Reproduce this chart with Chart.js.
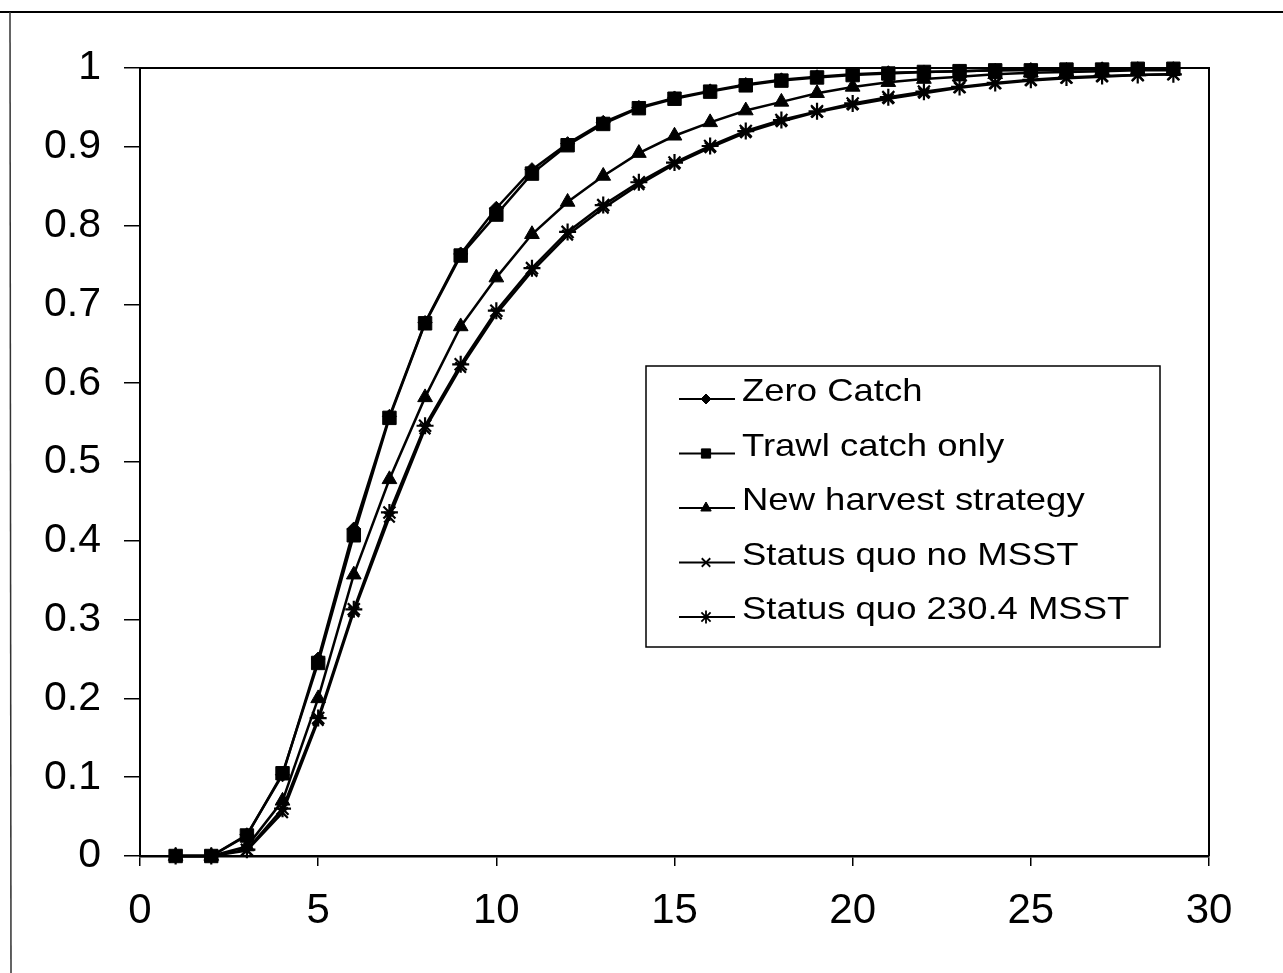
<!DOCTYPE html>
<html>
<head>
<meta charset="utf-8">
<style>
  html, body { margin: 0; padding: 0; background: #fff; }
  #wrap { width: 1283px; height: 973px; position: relative; }
</style>
<script src="https://cdn.jsdelivr.net/npm/chart.js@4.4.0/dist/chart.umd.min.js"></script>
</head>
<body>
<div id="wrap"><canvas id="chart"></canvas></div>
<script>
// data (x = year, y = probability)
const years = [1,2,3,4,5,6,7,8,9,10,11,12,13,14,15,16,17,18,19,20,21,22,23,24,25,26,27,28,29];

const zeroCatch   = [0, 0, 0.027, 0.103, 0.250, 0.415, 0.558, 0.677, 0.764, 0.822, 0.871, 0.904, 0.931, 0.950, 0.962, 0.971, 0.979, 0.985, 0.989, 0.992, 0.994, 0.995, 0.996, 0.997, 0.998, 0.998, 0.999, 0.999, 0.999];
const trawlOnly   = [0, 0, 0.026, 0.105, 0.245, 0.407, 0.556, 0.676, 0.762, 0.814, 0.866, 0.902, 0.929, 0.949, 0.961, 0.970, 0.978, 0.984, 0.988, 0.991, 0.993, 0.995, 0.996, 0.997, 0.997, 0.998, 0.998, 0.999, 0.999];
const newHarvest  = [0, 0, 0.012, 0.070, 0.200, 0.357, 0.478, 0.582, 0.672, 0.734, 0.789, 0.830, 0.863, 0.892, 0.914, 0.931, 0.946, 0.957, 0.968, 0.976, 0.982, 0.986, 0.989, 0.992, 0.994, 0.995, 0.996, 0.997, 0.997];
const sqNoMsst    = [0, 0, 0.007, 0.055, 0.172, 0.310, 0.430, 0.542, 0.620, 0.688, 0.742, 0.788, 0.822, 0.852, 0.878, 0.899, 0.918, 0.932, 0.944, 0.953, 0.961, 0.968, 0.975, 0.980, 0.984, 0.987, 0.989, 0.991, 0.992];
const sq230Msst   = [0, 0, 0.008, 0.060, 0.175, 0.313, 0.436, 0.546, 0.624, 0.692, 0.746, 0.792, 0.826, 0.855, 0.880, 0.901, 0.920, 0.934, 0.945, 0.955, 0.963, 0.970, 0.976, 0.981, 0.985, 0.988, 0.990, 0.991, 0.992];

const seriesNames = ['Zero Catch', 'Trawl catch only', 'New harvest strategy', 'Status quo no MSST', 'Status quo 230.4 MSST'];

const xTickLabels = ['0', '5', '10', '15', '20', '25', '30'];
const yTickLabels = ['0', '0.1', '0.2', '0.3', '0.4', '0.5', '0.6', '0.7', '0.8', '0.9', '1'];

const FONT = 'Arial, "Liberation Sans", sans-serif';

const toPts = (vals) => years.map((x, i) => ({ x, y: vals[i] }));

const markers = [
  { style: 'rectRot',  r: 7,   lr: 5 },
  { style: 'rect',     r: 9.5, lr: 6.5 },
  { style: 'triangle', r: 8.5, lr: 6 },
  { style: 'crossRot', r: 7.5, lr: 6 },
  { style: 'star',     r: 8.5, lr: 6.5 }
];
const allSeries = [zeroCatch, trawlOnly, newHarvest, sqNoMsst, sq230Msst];
const isStroke = (s) => s === 'crossRot' || s === 'star';

const datasets = allSeries.map((vals, i) => ({
  label: seriesNames[i],
  data: toPts(vals),
  borderColor: '#000',
  backgroundColor: '#000',
  borderWidth: 2.5,
  pointStyle: markers[i].style,
  pointRadius: markers[i].r,
  pointBorderWidth: isStroke(markers[i].style) ? 2.2 : 1,
  pointBackgroundColor: '#000',
  pointBorderColor: '#000',
  tension: 0,
  clip: false
}));

// frame lines (outer box + plot box top/right)
const framePlugin = {
  id: 'frame',
  afterDraw(chart) {
    const { ctx, chartArea: a } = chart;
    ctx.save();
    ctx.strokeStyle = '#000';
    ctx.lineWidth = 2;
    ctx.beginPath();
    ctx.moveTo(0, 12); ctx.lineTo(1283, 12);
    ctx.stroke();
    ctx.lineWidth = 1.5;
    ctx.strokeStyle = '#333';
    ctx.beginPath();
    ctx.moveTo(10, 12); ctx.lineTo(11, 973);
    ctx.stroke();
    // plot box top + right
    ctx.strokeStyle = '#000';
    ctx.lineWidth = 2;
    ctx.beginPath();
    ctx.moveTo(a.left, a.top); ctx.lineTo(a.right, a.top); ctx.lineTo(a.right, a.bottom);
    ctx.stroke();
    ctx.restore();
  }
};

// legend box inside the plot
const legendPlugin = {
  id: 'boxLegend',
  afterDraw(chart) {
    const ctx = chart.ctx;
    const bx = 646, by = 366, bw = 514, bh = 281;
    ctx.save();
    ctx.fillStyle = '#fff';
    ctx.fillRect(bx, by, bw, bh);
    ctx.strokeStyle = '#000';
    ctx.lineWidth = 1.5;
    ctx.strokeRect(bx, by, bw, bh);

    chart.data.datasets.forEach((ds, i) => {
      const y = 399 + i * 54.5;
      ctx.strokeStyle = '#000';
      ctx.fillStyle = '#000';
      ctx.lineWidth = 2;
      ctx.beginPath();
      ctx.moveTo(679, y); ctx.lineTo(735, y);
      ctx.stroke();
      ctx.lineWidth = isStroke(markers[i].style) ? 1.8 : 1;
      Chart.helpers.drawPoint(ctx, {
        pointStyle: markers[i].style,
        radius: markers[i].lr,
        rotation: 0,
        borderWidth: ctx.lineWidth
      }, 706, y);
      // text slightly stretched wide like the scan
      ctx.save();
      ctx.translate(742, y + 2);
      ctx.scale(1.14, 1);
      ctx.fillStyle = '#000';
      ctx.font = '32px ' + FONT;
      ctx.textBaseline = 'alphabetic';
      ctx.textAlign = 'left';
      ctx.fillText(ds.label, 0, 0);
      ctx.restore();
    });
    ctx.restore();
  }
};

const ctx = document.getElementById('chart').getContext('2d');

new Chart(ctx, {
  type: 'line',
  data: { datasets },
  options: {
    responsive: true,
    maintainAspectRatio: false,
    animation: false,
    events: [],
    layout: { padding: { top: 68, right: 74, bottom: 0, left: 0 } },
    plugins: {
      legend: { display: false },
      tooltip: { enabled: false }
    },
    scales: {
      x: {
        type: 'linear',
        min: 0,
        max: 30,
        afterFit: (s) => { s.height = 973 - 856; },
        ticks: {
          stepSize: 5,
          color: '#000',
          font: { family: FONT, size: 42 },
          padding: 20,
          maxRotation: 0,
          callback: (v, i) => xTickLabels[i]
        },
        grid: { drawOnChartArea: false, drawTicks: true, tickLength: 10, color: '#000', lineWidth: 1.5 },
        border: { display: true, color: '#000', width: 2.5 }
      },
      y: {
        min: 0,
        max: 1,
        afterFit: (s) => { s.width = 140; },
        ticks: {
          stepSize: 0.1,
          color: '#000',
          font: { family: FONT, size: 41 },
          padding: 23,
          callback: (v, i) => yTickLabels[i]
        },
        grid: { drawOnChartArea: false, drawTicks: true, tickLength: 16, color: '#000', lineWidth: 1.5 },
        border: { display: true, color: '#000', width: 2 }
      }
    }
  },
  plugins: [framePlugin, legendPlugin]
});
</script>
</body>
</html>
